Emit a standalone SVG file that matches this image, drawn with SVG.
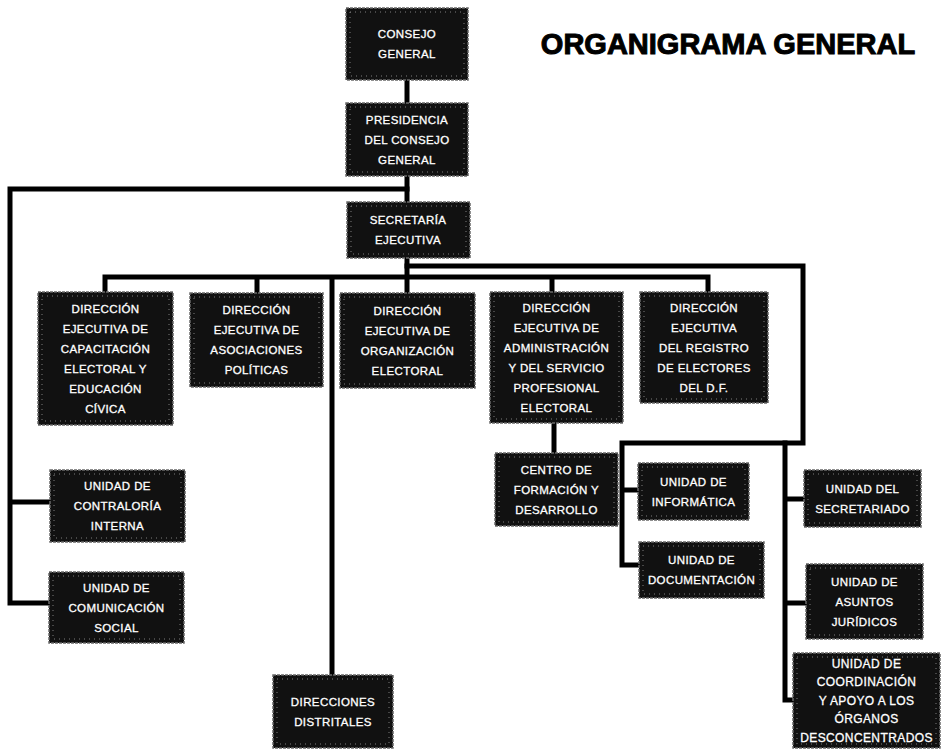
<svg xmlns="http://www.w3.org/2000/svg" width="944" height="752" viewBox="0 0 944 752">
<style>
.bx{fill:#111;stroke:#6a6a6a;stroke-width:1.5;stroke-dasharray:3 1}
.in{fill:none;stroke:#9a9a9a;stroke-width:0.8;stroke-dasharray:1 4}
.t{fill:#fff;stroke:#fff;stroke-width:0.3;font-family:"Liberation Sans",Arial,sans-serif;font-size:11.5px;letter-spacing:0.4px;text-anchor:middle}
.ln{fill:none;stroke:#000;stroke-width:5;stroke-linecap:square;stroke-linejoin:miter}
.title{fill:#000;stroke:#000;stroke-width:1;font-family:"Liberation Sans",Arial,sans-serif;font-weight:bold;font-size:29px;text-anchor:middle}
</style>
<rect width="944" height="752" fill="#fff"/>
<text class="title" x="728" y="54">ORGANIGRAMA GENERAL</text>
<g id="connectors">
<path class="ln" d="M407,80 V103"/>
<path class="ln" d="M407,176 V202"/>
<path class="ln" d="M407,189 H10 V603 H49 M10,502 H50"/>
<path class="ln" d="M407,258 V293"/>
<path class="ln" d="M407,266 H803 V443 H622 V565 H639 M622,490 H638"/>
<path class="ln" d="M785,443 V700 H793 M785,499 H804 M785,603 H806"/>
<path class="ln" d="M105,292 V277 H708 V292 M257,277 V293 M332,277 V675 M552,277 V292"/>
<path class="ln" d="M554,423 V453"/>
</g>
<g id="consejo"><rect class="bx" x="346" y="8" width="122" height="72"/><rect class="in" x="350" y="12" width="114" height="64"/><text class="t"><tspan x="407" y="38">CONSEJO</tspan><tspan x="407" y="58">GENERAL</tspan></text></g>
<g id="presidencia"><rect class="bx" x="346" y="103" width="122" height="73"/><rect class="in" x="350" y="107" width="114" height="65"/><text class="t"><tspan x="407" y="123.5">PRESIDENCIA</tspan><tspan x="407" y="143.5">DEL CONSEJO</tspan><tspan x="407" y="163.5">GENERAL</tspan></text></g>
<g id="secretaria"><rect class="bx" x="347" y="202" width="123" height="56"/><rect class="in" x="351" y="206" width="115" height="48"/><text class="t"><tspan x="408" y="224">SECRETARÍA</tspan><tspan x="408" y="244">EJECUTIVA</tspan></text></g>
<g id="capacitacion"><rect class="bx" x="38" y="292" width="135" height="133"/><rect class="in" x="42" y="296" width="127" height="125"/><text class="t"><tspan x="105.5" y="312.5">DIRECCIÓN</tspan><tspan x="105.5" y="332.5">EJECUTIVA DE</tspan><tspan x="105.5" y="352.5">CAPACITACIÓN</tspan><tspan x="105.5" y="372.5">ELECTORAL Y</tspan><tspan x="105.5" y="392.5">EDUCACIÓN</tspan><tspan x="105.5" y="412.5">CÍVICA</tspan></text></g>
<g id="asociaciones"><rect class="bx" x="190" y="293" width="133" height="94"/><rect class="in" x="194" y="297" width="125" height="86"/><text class="t"><tspan x="256.5" y="314">DIRECCIÓN</tspan><tspan x="256.5" y="334">EJECUTIVA DE</tspan><tspan x="256.5" y="354">ASOCIACIONES</tspan><tspan x="256.5" y="374">POLÍTICAS</tspan></text></g>
<g id="organizacion"><rect class="bx" x="340" y="293" width="135" height="95"/><rect class="in" x="344" y="297" width="127" height="87"/><text class="t"><tspan x="407.5" y="314.5">DIRECCIÓN</tspan><tspan x="407.5" y="334.5">EJECUTIVA DE</tspan><tspan x="407.5" y="354.5">ORGANIZACIÓN</tspan><tspan x="407.5" y="374.5">ELECTORAL</tspan></text></g>
<g id="administracion"><rect class="bx" x="490" y="292" width="133" height="131"/><rect class="in" x="494" y="296" width="125" height="123"/><text class="t"><tspan x="556.5" y="311.5">DIRECCIÓN</tspan><tspan x="556.5" y="331.5">EJECUTIVA DE</tspan><tspan x="556.5" y="351.5">ADMINISTRACIÓN</tspan><tspan x="556.5" y="371.5">Y DEL SERVICIO</tspan><tspan x="556.5" y="391.5">PROFESIONAL</tspan><tspan x="556.5" y="411.5">ELECTORAL</tspan></text></g>
<g id="registro"><rect class="bx" x="640" y="292" width="128" height="111"/><rect class="in" x="644" y="296" width="120" height="103"/><text class="t"><tspan x="704" y="311.5">DIRECCIÓN</tspan><tspan x="704" y="331.5">EJECUTIVA</tspan><tspan x="704" y="351.5">DEL REGISTRO</tspan><tspan x="704" y="371.5">DE ELECTORES</tspan><tspan x="704" y="391.5">DEL D.F.</tspan></text></g>
<g id="centro"><rect class="bx" x="495" y="453" width="123" height="73"/><rect class="in" x="499" y="457" width="115" height="65"/><text class="t"><tspan x="556.5" y="473.5">CENTRO DE</tspan><tspan x="556.5" y="493.5">FORMACIÓN Y</tspan><tspan x="556.5" y="513.5">DESARROLLO</tspan></text></g>
<g id="informatica"><rect class="bx" x="638" y="463" width="111" height="57"/><rect class="in" x="642" y="467" width="103" height="49"/><text class="t"><tspan x="693.5" y="485.5">UNIDAD DE</tspan><tspan x="693.5" y="505.5">INFORMÁTICA</tspan></text></g>
<g id="documentacion"><rect class="bx" x="639" y="542" width="125" height="56"/><rect class="in" x="643" y="546" width="117" height="48"/><text class="t"><tspan x="701.5" y="564">UNIDAD DE</tspan><tspan x="701.5" y="584">DOCUMENTACIÓN</tspan></text></g>
<g id="secretariado"><rect class="bx" x="804" y="470" width="117" height="57"/><rect class="in" x="808" y="474" width="109" height="49"/><text class="t"><tspan x="862.5" y="492.5">UNIDAD DEL</tspan><tspan x="862.5" y="512.5">SECRETARIADO</tspan></text></g>
<g id="asuntos"><rect class="bx" x="806" y="564" width="117" height="75"/><rect class="in" x="810" y="568" width="109" height="67"/><text class="t"><tspan x="864.5" y="585.5">UNIDAD DE</tspan><tspan x="864.5" y="605.5">ASUNTOS</tspan><tspan x="864.5" y="625.5">JURÍDICOS</tspan></text></g>
<g id="coordinacion"><rect class="bx" x="793" y="653" width="147" height="95"/><rect class="in" x="797" y="657" width="139" height="87"/><text class="t" style="font-size:12px"><tspan x="866.5" y="667.5">UNIDAD DE</tspan><tspan x="866.5" y="686">COORDINACIÓN</tspan><tspan x="866.5" y="704.5">Y APOYO A LOS</tspan><tspan x="866.5" y="723">ÓRGANOS</tspan><tspan x="866.5" y="741.5">DESCONCENTRADOS</tspan></text></g>
<g id="contraloria"><rect class="bx" x="50" y="470" width="135" height="72"/><rect class="in" x="54" y="474" width="127" height="64"/><text class="t"><tspan x="117.5" y="490">UNIDAD DE</tspan><tspan x="117.5" y="510">CONTRALORÍA</tspan><tspan x="117.5" y="530">INTERNA</tspan></text></g>
<g id="comunicacion"><rect class="bx" x="49" y="572" width="135" height="71"/><rect class="in" x="53" y="576" width="127" height="63"/><text class="t"><tspan x="116.5" y="591.5">UNIDAD DE</tspan><tspan x="116.5" y="611.5">COMUNICACIÓN</tspan><tspan x="116.5" y="631.5">SOCIAL</tspan></text></g>
<g id="distritales"><rect class="bx" x="273" y="675" width="120" height="73"/><rect class="in" x="277" y="679" width="112" height="65"/><text class="t"><tspan x="333" y="705.5">DIRECCIONES</tspan><tspan x="333" y="725.5">DISTRITALES</tspan></text></g>
</svg>
